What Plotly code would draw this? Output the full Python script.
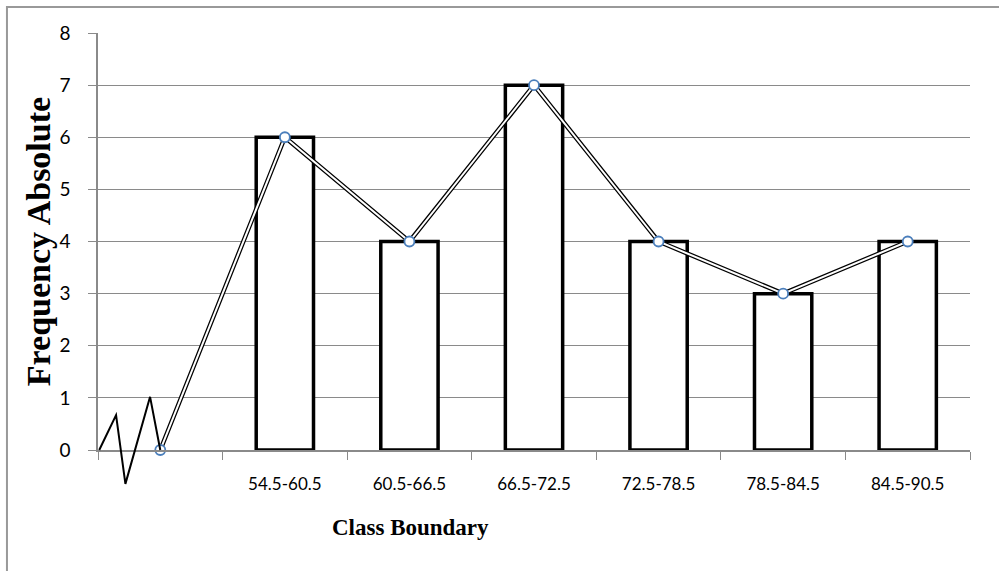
import plotly.graph_objects as go

# ---- data ----
categories = [" ", "54.5-60.5", "60.5-66.5", "66.5-72.5", "72.5-78.5", "78.5-84.5", "84.5-90.5"]
bar_values = [None, 6, 4, 7, 4, 3, 4]
polygon_values = [0, 6, 4, 7, 4, 3, 4]
y_ticks = [0, 1, 2, 3, 4, 5, 6, 7, 8]
# axis-break zigzag, in data units (category index, frequency)
break_x = [-0.49, -0.355, -0.28, -0.082, 0.0]
break_y = [0, 0.67, -0.65, 1.02, 0]

x_title = "Class Boundary"
y_title = "Frequency Absolute"

YMAX = 8
NCAT = len(categories)

GRID = "#8a8a8a"
XTICKFONT = dict(family="Lato, Liberation Sans, sans-serif", size=17, color="black")
YTICKFONT = dict(family="Lato, Liberation Sans, sans-serif", size=19, color="black")
TITLEFONT = "Liberation Serif, Times New Roman, serif"

fig = go.Figure()

fig.add_trace(go.Bar(
    x=categories, y=bar_values,
    marker=dict(color="white", line=dict(color="black", width=3.5)),
    hoverinfo="skip", showlegend=False,
))
# double line of the frequency polygon: black outer, white core
fig.add_trace(go.Scatter(
    x=categories, y=polygon_values, mode="lines",
    line=dict(color="black", width=4.5), showlegend=False, cliponaxis=False,
))
fig.add_trace(go.Scatter(
    x=categories, y=polygon_values, mode="lines",
    line=dict(color="white", width=2), showlegend=False, cliponaxis=False,
))
fig.add_trace(go.Scatter(
    x=categories, y=polygon_values, mode="markers",
    marker=dict(symbol="circle", size=10, color="white",
                line=dict(color="#4a7ebb", width=1.8)),
    showlegend=False, cliponaxis=False,
))

# axis-break zigzag (converted to axis-domain fractions so it is not clipped)
path = ""
for i, (bx, by) in enumerate(zip(break_x, break_y)):
    px = (bx + 0.5) / NCAT
    py = by / YMAX
    path += ("M" if i == 0 else "L") + f"{px},{py} "
fig.add_shape(type="path", path=path.strip(), xref="x domain", yref="y domain",
              line=dict(color="black", width=2), layer="above")

# outer chart border (only left and top are visible in the crop)
fig.add_shape(type="path", xref="paper", yref="paper",
              path="M-0.1044,-0.35 L-0.1044,1.0625 L1.05,1.0625",
              line=dict(color="#999999", width=2))

fig.add_annotation(text=x_title, xref="paper", yref="paper", x=0.358, y=-0.187,
                   xanchor="center", yanchor="middle", showarrow=False,
                   font=dict(family=TITLEFONT, size=23, color="black", weight="bold"))
fig.add_annotation(text=y_title, xref="paper", yref="paper", x=-0.068, y=0.5,
                   xanchor="center", yanchor="middle", showarrow=False, textangle=-90,
                   font=dict(family=TITLEFONT, size=34, color="black", weight="bold"))

fig.update_layout(
    width=999, height=571,
    margin=dict(l=98, r=29, t=33, b=121),
    paper_bgcolor="white", plot_bgcolor="white",
    bargap=0.54,
    xaxis=dict(
        type="category", categoryorder="array", categoryarray=categories,
        range=[-0.5, NCAT - 0.5],
        showline=True, linecolor=GRID, linewidth=1.5,
        ticks="outside", tickson="boundaries", ticklen=8, tickcolor=GRID, tickwidth=1.3,
        showgrid=False, tickfont=XTICKFONT, ticklabelstandoff=18,
    ),
    yaxis=dict(
        range=[0, YMAX], tickvals=y_ticks,
        showline=True, linecolor=GRID, linewidth=1.5,
        ticks="outside", ticklen=8, tickcolor=GRID, tickwidth=1.3,
        showgrid=True, gridcolor=GRID, gridwidth=1.3,
        zeroline=False, tickfont=YTICKFONT, ticklabelstandoff=14,
    ),
)

fig.write_html(
    "out.html",
    config={"displayModeBar": False},
    post_script="document.body.style.margin='0';document.body.style.overflow='hidden';",
)
